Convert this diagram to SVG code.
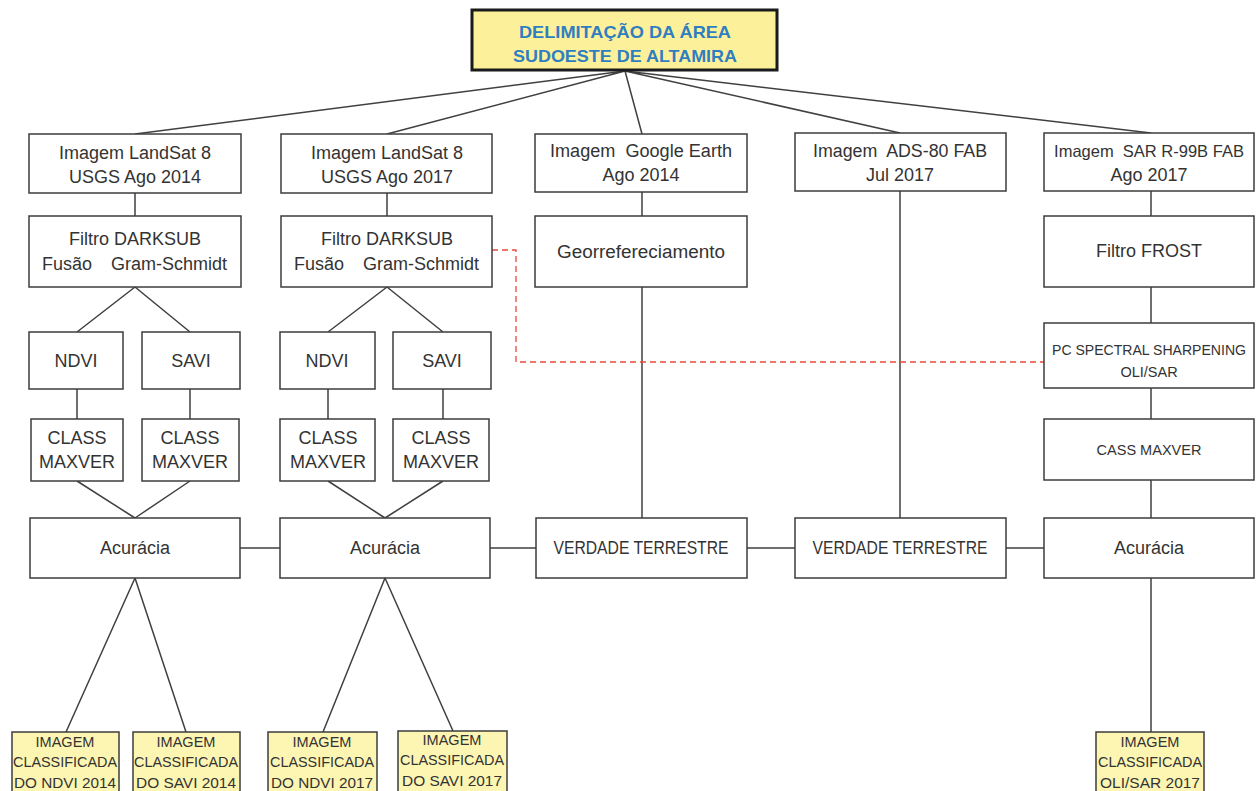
<svg xmlns="http://www.w3.org/2000/svg" width="1256" height="791" viewBox="0 0 1256 791">
<style>
.b{fill:#fff;stroke:#3c3c3c;stroke-width:1.5}
.y{fill:#fdf5b2;stroke:#3c3c3c;stroke-width:1.5}
.t{font-family:"Liberation Sans",Arial,sans-serif;font-size:18px;fill:#333;text-anchor:middle}
.s{font-size:14.5px}
.c{stroke:#404040;stroke-width:1.5;fill:none}
.d{stroke:#e8483a;stroke-width:1.3;fill:none;stroke-dasharray:6 4}
</style>
<rect width="1256" height="791" fill="#fff"/>
<g id="connectors">
<path class="c" d="M625 71L135 134M625 71L387 134M625 71L642 134M625 71L900 133M625 71L1151 133"/>
<path class="c" d="M135 193V216M387 193V216M642 192V216M1151 191V216"/>
<path class="c" d="M135 287L77 332M135 287L190 332M387 287L328 332M387 287L443 332"/>
<path class="c" d="M77 389V419M190 389V419M328 389V419M443 389V419"/>
<path class="c" d="M77 481L135 518M190 481L135 518M328 481L385 518M443 481L385 518"/>
<path class="c" d="M240 548H280M490 548H536M747 548H795M1006 548H1044"/>
<path class="c" d="M642 287V518M900 191V518M1151 287V323M1151 388V419M1151 480V518M1151 578V732"/>
<path class="c" d="M135 578L66 732M135 578L186 732M385 578L323 732M385 578L453 731"/>
<path class="d" d="M492 250H516V362H1044"/>
</g>
<g id="top">
<rect x="472" y="10" width="305" height="60" fill="#fdf09a" stroke="#1a1a1a" stroke-width="3"/>
<text x="625" y="38" font-family="'Liberation Sans',Arial,sans-serif" font-size="17" font-weight="bold" fill="#2f7ec1" text-anchor="middle" textLength="212" lengthAdjust="spacingAndGlyphs">DELIMITAÇÃO DA ÁREA</text>
<text x="625" y="62" font-family="'Liberation Sans',Arial,sans-serif" font-size="17" font-weight="bold" fill="#2f7ec1" text-anchor="middle" textLength="224" lengthAdjust="spacingAndGlyphs">SUDOESTE DE ALTAMIRA</text>
</g>
<g id="l8_2014"><rect class="b" x="29" y="134" width="212" height="59"/><text class="t" x="135" y="159">Imagem LandSat 8</text><text class="t" x="135" y="183">USGS Ago 2014</text></g>
<g id="l8_2017"><rect class="b" x="281" y="134" width="211" height="59"/><text class="t" x="387" y="159">Imagem LandSat 8</text><text class="t" x="387" y="183">USGS Ago 2017</text></g>
<g id="google"><rect class="b" x="535" y="134" width="212" height="58"/><text class="t" x="641" y="157" xml:space="preserve" textLength="182" lengthAdjust="spacingAndGlyphs">Imagem  Google Earth</text><text class="t" x="641" y="181">Ago 2014</text></g>
<g id="ads"><rect class="b" x="795" y="133" width="211" height="58"/><text class="t" x="900" y="157" xml:space="preserve" textLength="174" lengthAdjust="spacingAndGlyphs">Imagem  ADS-80 FAB</text><text class="t" x="900" y="181">Jul 2017</text></g>
<g id="sar"><rect class="b" x="1044" y="133" width="210" height="58"/><text class="t" x="1149" y="157" xml:space="preserve" style="font-size:16.5px">Imagem  SAR R-99B FAB</text><text class="t" x="1149" y="181">Ago 2017</text></g>
<g id="filt2014"><rect class="b" x="29" y="216" width="212" height="71"/><text class="t" x="135" y="245">Filtro DARKSUB</text><text class="t" x="42" y="270" style="text-anchor:start">Fusão</text><text class="t" x="227" y="270" style="text-anchor:end">Gram-Schmidt</text></g>
<g id="filt2017"><rect class="b" x="281" y="216" width="211" height="71"/><text class="t" x="387" y="245">Filtro DARKSUB</text><text class="t" x="294" y="270" style="text-anchor:start">Fusão</text><text class="t" x="479" y="270" style="text-anchor:end">Gram-Schmidt</text></g>
<g id="georref"><rect class="b" x="535" y="216" width="212" height="71"/><text class="t" x="641" y="258" textLength="168" lengthAdjust="spacingAndGlyphs">Georrefereciamento</text></g>
<g id="frost"><rect class="b" x="1044" y="216" width="210" height="71"/><text class="t" x="1149" y="257">Filtro FROST</text></g>
<g id="ndvi14"><rect class="b" x="29" y="332" width="94" height="57"/><text class="t" x="76" y="367">NDVI</text></g>
<g id="savi14"><rect class="b" x="142" y="332" width="98" height="57"/><text class="t" x="191" y="367">SAVI</text></g>
<g id="ndvi17"><rect class="b" x="280" y="332" width="95" height="57"/><text class="t" x="327" y="367">NDVI</text></g>
<g id="savi17"><rect class="b" x="393" y="332" width="98" height="57"/><text class="t" x="442" y="367">SAVI</text></g>
<g id="cls1"><rect class="b" x="31" y="419" width="92" height="62"/><text class="t" x="77" y="444">CLASS</text><text class="t" x="77" y="468">MAXVER</text></g>
<g id="cls2"><rect class="b" x="142" y="419" width="97" height="62"/><text class="t" x="190" y="444">CLASS</text><text class="t" x="190" y="468">MAXVER</text></g>
<g id="cls3"><rect class="b" x="280" y="419" width="95" height="62"/><text class="t" x="328" y="444">CLASS</text><text class="t" x="328" y="468">MAXVER</text></g>
<g id="cls4"><rect class="b" x="393" y="419" width="96" height="62"/><text class="t" x="441" y="444">CLASS</text><text class="t" x="441" y="468">MAXVER</text></g>
<g id="pc"><rect class="b" x="1044" y="323" width="210" height="65"/><text class="t s" x="1149" y="355" textLength="194" lengthAdjust="spacingAndGlyphs">PC SPECTRAL SHARPENING</text><text class="t s" x="1149" y="377">OLI/SAR</text></g>
<g id="cass"><rect class="b" x="1044" y="419" width="210" height="61"/><text class="t s" x="1149" y="455" textLength="105" lengthAdjust="spacingAndGlyphs">CASS MAXVER</text></g>
<g id="acur1"><rect class="b" x="30" y="518" width="210" height="60"/><text class="t" x="135" y="554">Acurácia</text></g>
<g id="acur2"><rect class="b" x="280" y="518" width="210" height="60"/><text class="t" x="385" y="554">Acurácia</text></g>
<g id="verd1"><rect class="b" x="536" y="518" width="211" height="60"/><text class="t" x="641" y="554" textLength="175" lengthAdjust="spacingAndGlyphs">VERDADE TERRESTRE</text></g>
<g id="verd2"><rect class="b" x="795" y="518" width="211" height="60"/><text class="t" x="900" y="554" textLength="175" lengthAdjust="spacingAndGlyphs">VERDADE TERRESTRE</text></g>
<g id="acur3"><rect class="b" x="1044" y="518" width="210" height="60"/><text class="t" x="1149" y="554">Acurácia</text></g>
<g id="img1"><rect class="y" x="12" y="732" width="107" height="65"/><text class="t s" x="65" y="747">IMAGEM</text><text class="t s" x="65" y="767" textLength="104" lengthAdjust="spacingAndGlyphs">CLASSIFICADA</text><text class="t s" x="65" y="788" textLength="102" lengthAdjust="spacingAndGlyphs">DO NDVI 2014</text></g>
<g id="img2"><rect class="y" x="133" y="732" width="107" height="65"/><text class="t s" x="186" y="747">IMAGEM</text><text class="t s" x="186" y="767" textLength="104" lengthAdjust="spacingAndGlyphs">CLASSIFICADA</text><text class="t s" x="186" y="788" textLength="100" lengthAdjust="spacingAndGlyphs">DO SAVI 2014</text></g>
<g id="img3"><rect class="y" x="268" y="732" width="109" height="65"/><text class="t s" x="322" y="747">IMAGEM</text><text class="t s" x="322" y="767" textLength="104" lengthAdjust="spacingAndGlyphs">CLASSIFICADA</text><text class="t s" x="322" y="788" textLength="102" lengthAdjust="spacingAndGlyphs">DO NDVI 2017</text></g>
<g id="img4"><rect class="y" x="398" y="731" width="109" height="65"/><text class="t s" x="452" y="745">IMAGEM</text><text class="t s" x="452" y="765" textLength="104" lengthAdjust="spacingAndGlyphs">CLASSIFICADA</text><text class="t s" x="452" y="786" textLength="100" lengthAdjust="spacingAndGlyphs">DO SAVI 2017</text></g>
<g id="img5"><rect class="y" x="1096" y="732" width="108" height="65"/><text class="t s" x="1150" y="747">IMAGEM</text><text class="t s" x="1150" y="767" textLength="104" lengthAdjust="spacingAndGlyphs">CLASSIFICADA</text><text class="t s" x="1150" y="788" textLength="100" lengthAdjust="spacingAndGlyphs">OLI/SAR 2017</text></g>
</svg>
